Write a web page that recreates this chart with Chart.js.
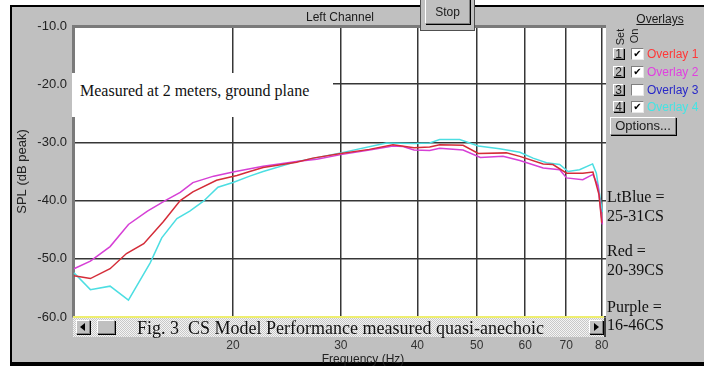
<!DOCTYPE html>
<html>
<head>
<meta charset="utf-8">
<title>Left Channel – SPL vs Frequency</title>
<script src="https://cdn.jsdelivr.net/npm/chart.js@4.4.1/dist/chart.umd.min.js"></script>
<style>
  html, body { margin: 0; padding: 0; background: #fff; }
  #wrap { position: relative; width: 704px; height: 366px; overflow: hidden; }
  #frame {
    position: absolute; left: 10px; top: 5px; width: 720px; height: 355px;
    background: #c0c0c0;
    border-left: 2px solid #000; border-top: 2px solid #000; border-bottom: 4px solid #000;
  }
  #chart { position: absolute; left: 0; top: 0; }
  .abs   { position: absolute; white-space: pre; }
  .sans  { font-family: 'Liberation Sans', Arial, sans-serif; font-size: 12px; color: #1a1a1a; }
  .serif { font-family: 'Liberation Serif', 'Times New Roman', serif; color: #111; }
  .raised {
    position: absolute; box-sizing: border-box; background: #c0c0c0; text-align: center;
    border-top: 1px solid #fff; border-left: 1px solid #fff;
    border-right: 1px solid #808080; border-bottom: 1px solid #808080;
    box-shadow: 1px 1px 0 #000;
  }
  .chk {
    position: absolute; box-sizing: border-box; width: 13px; height: 12px; background: #fff;
    border-top: 1px solid #808080; border-left: 1px solid #808080;
    border-right: 1px solid #e8e8e8; border-bottom: 1px solid #e8e8e8;
    font-family: 'DejaVu Sans', sans-serif; font-size: 10px; line-height: 10px; text-align: center; color: #000;
  }
  #track {
    position: absolute; left: 73px; top: 318px; width: 533px; height: 19px;
    background: repeating-conic-gradient(#c8c8c8 0 25%, #f4f4f4 0 50%) 0 0 / 2px 2px;
    border-right: 2px solid #404040; box-sizing: border-box;
  }
  .tri { position: absolute; width: 0; height: 0; border-top: 4px solid transparent; border-bottom: 4px solid transparent; }
</style>
</head>
<body>
<div id="wrap">
  <div id="frame"></div>
  <canvas id="chart" width="704" height="366"></canvas>

  <!-- window chrome -->
  <div class="abs sans" style="left:290px; top:10px; width:100px; text-align:center; line-height:14px;">Left Channel</div>
  <div class="abs" style="left:420px; top:-2px; width:53px; height:32px; background:#c0c0c0; border:1px solid #505050; border-top:none;"></div>
  <div class="raised sans" style="left:425px; top:-2px; width:45px; height:26px; line-height:26px;">Stop</div>

  <!-- overlay panel -->
  <div class="abs sans" style="left:620px; top:12px; width:80px; text-align:center; line-height:14px; text-decoration:underline;">Overlays</div>
  <div class="abs sans" style="left:609px; top:31px; width:21px; height:12px; line-height:12px; font-size:11px; text-align:center; transform:rotate(-90deg);">Set</div>
  <div class="abs sans" style="left:626px; top:30px; width:16px; height:12px; line-height:12px; font-size:11px; text-align:center; transform:rotate(-90deg);">On</div>
  <div id="overlay-rows"></div>
  <div class="raised sans" style="left:610px; top:117px; width:66px; height:18px; line-height:16px; font-size:13px;">Options...</div>

  <!-- annotations -->
  <div class="abs" style="left:72px; top:73px; width:261px; height:44px; background:#fff;"></div>
  <div class="abs serif" style="left:80px; top:82px; font-size:16px; line-height:18px;">Measured at 2 meters, ground plane</div>
  <div id="legend-notes"></div>

  <!-- scrollbar -->
  <div class="abs" style="left:73px; top:316px; width:531px; height:2px; background:#eeee70;"></div>
  <div id="track"></div>
  <div class="raised" style="left:76px; top:320px; width:14px; height:14px;"><div class="tri" style="left:3px; top:2px; border-right:5px solid #000;"></div></div>
  <div class="raised" style="left:97px; top:320px; width:18px; height:14px;"></div>
  <div class="raised" style="left:589px; top:320px; width:14px; height:14px;"><div class="tri" style="left:4px; top:2px; border-left:5px solid #000;"></div></div>
  <div class="abs serif" style="left:137px; top:318px; font-size:18px; line-height:20px;">Fig. 3  CS Model Performance measured quasi-anechoic</div>

  <div class="abs sans" style="left:313px; top:352px; width:100px; text-align:center; line-height:14px; color:#222;">Frequency (Hz)</div>
</div>

<script>
/* ── Data ───────────────────────────────────────────────── */

const xTickValues = [20, 30, 40, 50, 60, 70, 80];
const yTickValues = [-60, -50, -40, -30, -20, -10];

// Overlay 4 – light blue, 25-31CS
const freqBlue = [11.0, 11.7, 12.6, 13.5, 14.65, 15.3, 16.2, 17.0, 17.9, 18.9, 20.0, 21.3, 22.4, 25.4, 30.0,
                  35.6, 39.5, 41.9, 43.5, 46.9, 50.3, 54.5, 58.8, 61.8, 65.0, 68.3, 70.5, 73.6, 77.3, 78.4, 79.6, 80.2];
const splBlue  = [-52.4, -55.3, -54.7, -57.1, -50.7, -46.4, -43.1, -41.8, -40.1, -37.7, -36.9, -35.8, -35.0, -33.3, -31.8,
                  -30.1, -30.2, -30.1, -29.5, -29.5, -30.6, -31.1, -31.7, -32.7, -33.5, -33.8, -35.0, -34.7, -33.7, -35.3, -39.8, -42.0];

// Overlay 1 – red, 20-39CS
const freqRed = [11.0, 11.7, 12.6, 13.4, 14.3, 15.4, 16.4, 17.2, 18.8, 20.3, 21.3, 22.4, 25.4, 27.0, 30.0,
                 33.4, 36.5, 39.5, 41.9, 43.5, 47.5, 50.3, 55.9, 58.8, 64.2, 66.6, 70.1, 74.5, 77.4, 79.2, 80.0];
const splRed  = [-52.9, -53.4, -51.7, -49.1, -47.4, -43.6, -40.0, -38.5, -36.5, -35.7, -35.0, -34.3, -33.4, -32.7, -31.9,
                 -31.2, -30.4, -30.9, -30.8, -30.4, -30.5, -31.9, -31.8, -32.4, -33.7, -33.8, -35.3, -35.3, -35.1, -39.0, -43.8];

// Overlay 2 – purple, 16-46CS
const freqPurple = [11.0, 11.7, 12.6, 13.5, 14.5, 15.5, 16.4, 17.2, 18.6, 20.0, 22.4, 25.4, 27.4, 30.0,
                    33.4, 36.5, 37.9, 39.5, 41.9, 43.5, 47.5, 50.7, 55.2, 58.8, 64.2, 68.3, 70.1, 74.5, 77.4, 78.9, 80.2];
const splPurple  = [-51.7, -50.4, -47.9, -44.1, -41.8, -40.0, -38.6, -36.9, -35.8, -35.1, -34.1, -33.3, -32.9, -32.1,
                    -31.3, -30.6, -30.7, -31.3, -31.4, -31.0, -31.3, -32.6, -32.4, -33.1, -34.4, -34.7, -36.1, -36.4, -35.5, -37.5, -44.1];

const overlayNames  = ['Overlay 1', 'Overlay 2', 'Overlay 3', 'Overlay 4'];
const overlayColors = ['#ff3838', '#e040e0', '#2828c8', '#44e4e4'];
const overlayOn     = [true, true, false, true];

const legendLines = ['LtBlue =', '25-31CS', 'Red =', '20-39CS', 'Purple =', '16-46CS'];


/* ── Config ─────────────────────────────────────────────── */

const COLORS = {
  red:    'rgb(212,44,56)',
  purple: 'rgb(214,64,214)',
  blue:   'rgb(76,222,226)',
  grid:   '#363636',
  frame:  '#7a7a7a'
};

Chart.defaults.font.family = "'Liberation Sans', Arial, sans-serif";
Chart.defaults.font.size   = 12;
Chart.defaults.color       = '#222';


/* ── Overlay panel + side notes ─────────────────────────── */

document.getElementById('overlay-rows').innerHTML = overlayNames.map((name, i) => {
  const top = 48 + i * 17.8;
  return `
    <div class="raised sans" style="left:613px; top:${top}px; width:11px; height:11px; line-height:10px;">${i + 1}</div>
    <div class="chk" style="left:631px; top:${top}px;">${overlayOn[i] ? '✔' : ''}</div>
    <div class="abs sans" style="left:647px; top:${top - 1}px; line-height:14px; color:${overlayColors[i]};">${name}</div>`;
}).join('');

const noteTops = [188, 207, 242, 261, 298, 316];
document.getElementById('legend-notes').innerHTML = legendLines.map((t, i) =>
  `<div class="abs serif" style="left:607px; top:${noteTops[i]}px; font-size:16px; line-height:18px;">${t}</div>`
).join('');


/* ── Chart ──────────────────────────────────────────────── */

const plotBg = {
  id: 'plotBg',
  beforeDraw(chart) {
    const { ctx, chartArea: a } = chart;
    ctx.save();
    ctx.fillStyle = '#fff';
    ctx.fillRect(a.left, a.top, a.right - a.left, a.bottom - a.top);
    ctx.restore();
  }
};

function series(label, freq, spl, color) {
  return {
    label,
    data: freq.map((f, i) => ({ x: f, y: spl[i] })),
    borderColor: color,
    borderWidth: 1.5,
    pointRadius: 0,
    tension: 0,
    fill: false
  };
}

// only the labelled decades get a grid line
const xGridColor = c => (c.tick && xTickValues.includes(c.tick.value)) ? COLORS.grid : 'rgba(0,0,0,0)';

new Chart(document.getElementById('chart'), {
  type: 'line',
  data: {
    datasets: [
      series('Overlay 1', freqRed, splRed, COLORS.red),
      series('Overlay 2', freqPurple, splPurple, COLORS.purple),
      series('Overlay 4', freqBlue, splBlue, COLORS.blue)
    ]
  },
  options: {
    responsive: false,
    animation: false,
    layout: { padding: { left: 12, top: 26, right: 98, bottom: 0 } },
    plugins: { legend: { display: false }, tooltip: { enabled: false } },
    scales: {
      x: {
        type: 'logarithmic',
        min: 10.96, max: 81.3,
        afterBuildTicks: s => { s.ticks = xTickValues.map(v => ({ value: v })); },
        afterFit: s => { s.height = 49; },
        ticks: { padding: 21, autoSkip: false, maxRotation: 0, color: '#333', callback: v => String(v) },
        grid: { color: xGridColor, lineWidth: 1.5, drawTicks: false },
        border: { display: false }
      },
      y: {
        min: -60, max: -10,
        afterBuildTicks: s => { s.ticks = yTickValues.map(v => ({ value: v })); },
        afterFit: s => { s.width = 61; },
        ticks: { padding: 6, color: '#222', font: { size: 13 }, callback: v => v.toFixed(1) },
        grid: {
          drawTicks: false,
          color: c => c.tick && c.tick.value === -10 ? COLORS.frame : COLORS.grid,
          lineWidth: c => c.tick && c.tick.value === -10 ? 3 : 1.5
        },
        border: { display: true, color: COLORS.frame, width: 3 },
        title: { display: true, text: 'SPL (dB peak)', color: '#222', font: { size: 13 }, padding: { top: 3, bottom: 0 } }
      }
    }
  },
  plugins: [plotBg]
});
</script>
</body>
</html>
